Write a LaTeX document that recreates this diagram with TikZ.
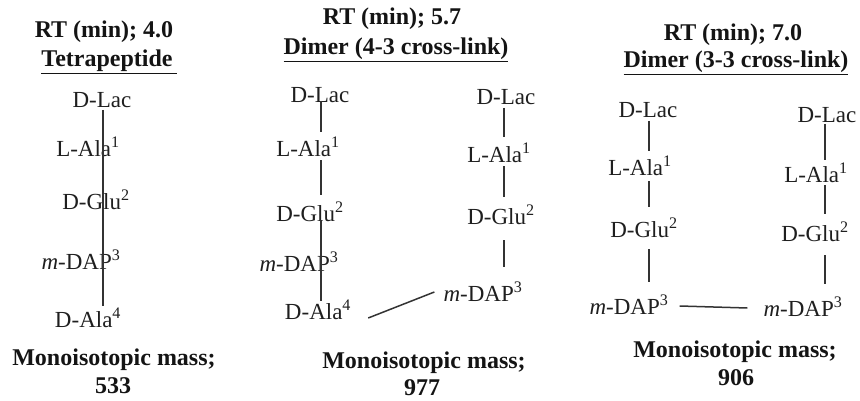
\documentclass[tikz,border=0pt]{standalone}
\usepackage{fontspec}
\setmainfont{Liberation Serif}
\begin{document}
\begin{tikzpicture}[x=1pt,y=-1pt,
  lbl/.style={inner sep=1pt, font=\fontsize{23}{26}\selectfont, text=black!88},
  ttl/.style={inner sep=0pt, font=\fontsize{24}{28}\selectfont\bfseries, text=black!92},
  massl/.style={inner sep=0pt, font=\fontsize{24}{28}\selectfont\bfseries, text=black!92},
  bond/.style={draw=black!80, line width=1.5pt}]
\useasboundingbox[fill=white] (0,0) rectangle (860,401);

% ---------- Panel 1 ----------
\node[ttl] (rt1) at (104,32) {RT (min); 4.0};
\node[ttl] (st1) at (109,62) {\underline{Tetrapeptide\,}};
\node[lbl] (a1) at (102,100) {D-Lac};
\node[lbl] (b1) at (88,147) {L-Ala\textsuperscript{1}};
\node[lbl] (c1) at (96,200) {D-Glu\textsuperscript{2}};
\node[lbl] (d1) at (81,260) {\textit{m}-DAP\textsuperscript{3}};
\node[lbl] (e1) at (88,318) {D-Ala\textsuperscript{4}};
\coordinate (col1) at (103,0);
\draw[bond] ([yshift=-1pt]a1.south -| col1) -- ([yshift=1pt]e1.north -| col1);
\node[massl] (m1) at (114,360) {Monoisotopic mass;};
\node[massl] (n1) at (113,386) {533};

% ---------- Panel 2 ----------
\node[ttl] (rt2) at (392,19) {RT (min); 5.7};
\node[ttl] (st2) at (396,50) {\underline{Dimer (4-3 cross-link)}};
% left chain
\node[lbl] (a2) at (320,95) {D-Lac};
\node[lbl] (b2) at (308,147) {L-Ala\textsuperscript{1}};
\node[lbl] (c2) at (310,212) {D-Glu\textsuperscript{2}};
\node[lbl] (d2) at (299,262) {\textit{m}-DAP\textsuperscript{3}};
\node[lbl] (e2) at (318,310) {D-Ala\textsuperscript{4}};
\coordinate (col2) at (321,0);
\draw[bond] ([yshift=3pt]a2.south -| col2) -- ([yshift=4pt]b2.north -| col2);
\draw[bond] ([yshift=-2pt]b2.south -| col2) -- ([yshift=6pt]c2.north -| col2);
\draw[bond] ([yshift=3pt]c2.south -| col2) -- ([yshift=-2pt]e2.north -| col2);
% right chain
\node[lbl] (a2r) at (506,97) {D-Lac};
\node[lbl] (b2r) at (499,153) {L-Ala\textsuperscript{1}};
\node[lbl] (c2r) at (501,215) {D-Glu\textsuperscript{2}};
\node[lbl] (d2r) at (483,292) {\textit{m}-DAP\textsuperscript{3}};
\coordinate (col2r) at (504,0);
\draw[bond] ([yshift=-2pt]a2r.south -| col2r) -- ([yshift=5pt]b2r.north -| col2r);
\draw[bond] ([yshift=-2pt]b2r.south -| col2r) -- ([yshift=7pt]c2r.north -| col2r);
\draw[bond] ([yshift=-14pt]c2r.south -| col2r) -- ([yshift=14pt]d2r.north -| col2r);
% cross-link 4-3
\draw[bond] ([xshift=16pt,yshift=-8pt]e2.east) -- ([xshift=-8pt]d2r.west);
\node[massl] (m2) at (424,363) {Monoisotopic mass;};
\node[massl] (n2) at (422,388) {977};

% ---------- Panel 3 ----------
\node[ttl] (rt3) at (733,35) {RT (min); 7.0};
\node[ttl] (st3) at (736,63) {\underline{Dimer (3-3 cross-link)}};
% left chain
\node[lbl] (a3) at (648,110) {D-Lac};
\node[lbl] (b3) at (640,166) {L-Ala\textsuperscript{1}};
\node[lbl] (c3) at (644,228) {D-Glu\textsuperscript{2}};
\node[lbl] (d3) at (629,305) {\textit{m}-DAP\textsuperscript{3}};
\coordinate (col3) at (649,0);
\draw[bond] ([yshift=-2pt]a3.south -| col3) -- ([yshift=4pt]b3.north -| col3);
\draw[bond] ([yshift=-4pt]b3.south -| col3) -- ([yshift=10pt]c3.north -| col3);
\draw[bond] ([yshift=-10pt]c3.south -| col3) -- ([yshift=12pt]d3.north -| col3);
% right chain
\node[lbl] (a3r) at (827,115) {D-Lac};
\node[lbl] (b3r) at (816,173) {L-Ala\textsuperscript{1}};
\node[lbl] (c3r) at (815,232) {D-Glu\textsuperscript{2}};
\node[lbl] (d3r) at (803,307) {\textit{m}-DAP\textsuperscript{3}};
\coordinate (col3r) at (825,0);
\draw[bond] ([yshift=0pt]a3r.south -| col3r) -- ([yshift=2pt]b3r.north -| col3r);
\draw[bond] ([yshift=-1pt]b3r.south -| col3r) -- ([yshift=7pt]c3r.north -| col3r);
\draw[bond] ([yshift=-12pt]c3r.south -| col3r) -- ([yshift=12pt]d3r.north -| col3r);
% cross-link 3-3
\draw[bond] ([xshift=10pt,yshift=-1pt]d3.east) -- ([xshift=-15pt,yshift=-1pt]d3r.west);
\node[massl] (m3) at (735,352) {Monoisotopic mass;};
\node[massl] (n3) at (736,378) {906};
\end{tikzpicture}
\end{document}
